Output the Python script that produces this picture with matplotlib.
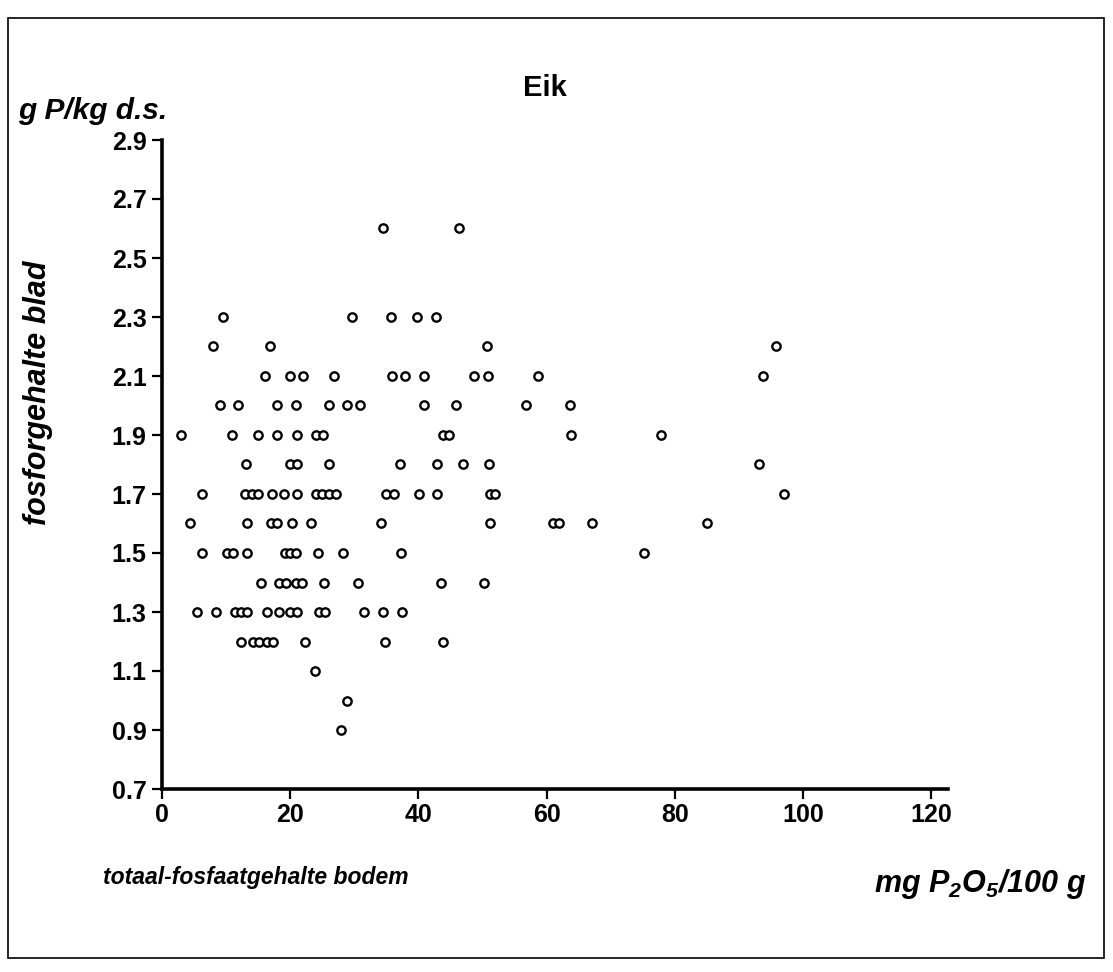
import matplotlib
matplotlib.use("Agg")
import matplotlib.pyplot as plt
from matplotlib.patches import Rectangle

plt.rcParams['font.family'] = ['Liberation Sans', 'DejaVu Sans']
plt.rcParams['mathtext.fontset'] = 'custom'
plt.rcParams['mathtext.rm'] = 'Liberation Sans:italic:bold'
plt.rcParams['mathtext.it'] = 'Liberation Sans:italic:bold'
plt.rcParams['mathtext.bf'] = 'Liberation Sans:italic:bold'

# soil total phosphate (mg P2O5/100 g) for each leaf-P level (g P/kg d.s.)
leaf_levels = [2.6, 2.3, 2.2, 2.1, 2.0, 1.9, 1.8, 1.7, 1.6, 1.5, 1.4, 1.3, 1.2, 1.1, 1.0, 0.9]
soil_26 = [34.5, 46.4]
soil_23 = [9.5, 29.7, 35.7, 39.8, 42.8]
soil_22 = [7.9, 16.8, 50.7, 95.7]
soil_21 = [16.0, 19.9, 22.0, 26.9, 35.9, 37.9, 40.8, 48.7, 50.8, 58.7, 93.8]
soil_20 = [9.0, 11.8, 17.9, 20.9, 26.0, 28.9, 30.9, 40.8, 45.9, 56.7, 63.7]
soil_19 = [3.0, 10.9, 15.0, 18.0, 21.0, 24.0, 25.1, 43.8, 44.7, 63.8, 77.8]
soil_18 = [13.1, 19.9, 21.0, 26.1, 37.1, 42.9, 46.9, 51.0, 93.1]
soil_17 = [6.2, 13.0, 14.0, 14.9, 17.1, 19.0, 21.0, 24.0, 25.0, 26.1, 27.1,
           35.0, 36.2, 40.1, 42.9, 51.2, 52.0, 97.0]
soil_16 = [4.3, 13.2, 17.0, 18.0, 20.2, 23.2, 34.2, 51.2, 61.0, 62.0, 67.0, 85.0]
soil_15 = [6.3, 10.1, 11.0, 13.2, 19.2, 20.0, 20.9, 24.3, 28.2, 37.3, 75.2]
soil_14 = [15.4, 18.3, 19.4, 20.9, 21.9, 25.3, 30.5, 43.5, 50.3]
soil_13 = [5.5, 8.5, 11.4, 12.3, 13.2, 16.4, 18.3, 19.9, 21.0, 24.5, 25.4, 31.5, 34.5, 37.5]
soil_12 = [12.4, 14.2, 15.2, 16.3, 17.3, 22.3, 34.8, 43.9]
soil_11 = [23.9]
soil_10 = [28.9]
soil_09 = [27.9]

soil_rows = [soil_26, soil_23, soil_22, soil_21, soil_20, soil_19, soil_18, soil_17,
             soil_16, soil_15, soil_14, soil_13, soil_12, soil_11, soil_10, soil_09]

y_ticks = [0.7, 0.9, 1.1, 1.3, 1.5, 1.7, 1.9, 2.1, 2.3, 2.5, 2.7, 2.9]
x_ticks = [0, 20, 40, 60, 80, 100, 120]

xs, ys = [], []
for lvl, row in zip(leaf_levels, soil_rows):
    xs.extend(row)
    ys.extend([lvl] * len(row))

W, H = 1113, 972
fig = plt.figure(figsize=(W / 100, H / 100), dpi=100)
fig.patch.set_facecolor('white')

ax = fig.add_axes([162 / W, 1 - 789 / H, (948 - 162) / W, (789 - 140) / H])
ax.plot(xs, ys, linestyle='none', marker='o', markersize=6.0,
        markerfacecolor='white', markeredgecolor='black', markeredgewidth=1.7)

ax.set_xlim(0, 122.6)
ax.set_ylim(0.7, 2.9)
ax.set_xticks(x_ticks)
ax.set_yticks(y_ticks)
ax.set_xticklabels([str(v) for v in x_ticks])
ax.set_yticklabels([f"{v:.1f}" for v in y_ticks])
for s in ['top', 'right']:
    ax.spines[s].set_visible(False)
for s in ['left', 'bottom']:
    ax.spines[s].set_linewidth(2.6)
ax.tick_params(axis='both', direction='out', length=7, width=1.6, colors='black',
               labelsize=18)
ax.tick_params(axis='y', pad=4)
ax.tick_params(axis='x', pad=3)
for lab in ax.get_xticklabels() + ax.get_yticklabels():
    lab.set_fontweight('bold')

# texts
fig.text(545 / W, 1 - 88 / H, 'Eik', ha='center', va='center',
         fontsize=21, fontweight='bold')
fig.text(18 / W, 1 - 111 / H, 'g P/kg d.s.', ha='left', va='center',
         fontsize=21.5, fontweight='bold', fontstyle='italic')
fig.text(38 / W, 1 - 393 / H, 'fosforgehalte blad', ha='center', va='center',
         rotation=90, fontsize=22, fontweight='bold', fontstyle='italic')
fig.text(256 / W, 1 - 877 / H, 'totaal-fosfaatgehalte bodem', ha='center', va='center',
         fontsize=16.5, fontweight='bold', fontstyle='italic')
fig.text(980 / W, 1 - 884 / H, r'mg P$_2$O$_5$/100 g', ha='center', va='center',
         fontsize=22, fontweight='bold', fontstyle='italic')

# frame around the figure
fig.add_artist(Rectangle((8 / W, 1 - 958 / H), (1104 - 8) / W, (958 - 18) / H,
                         transform=fig.transFigure, fill=False,
                         edgecolor='black', linewidth=1.2))

fig.savefig('out.png', dpi=100, facecolor='white')
